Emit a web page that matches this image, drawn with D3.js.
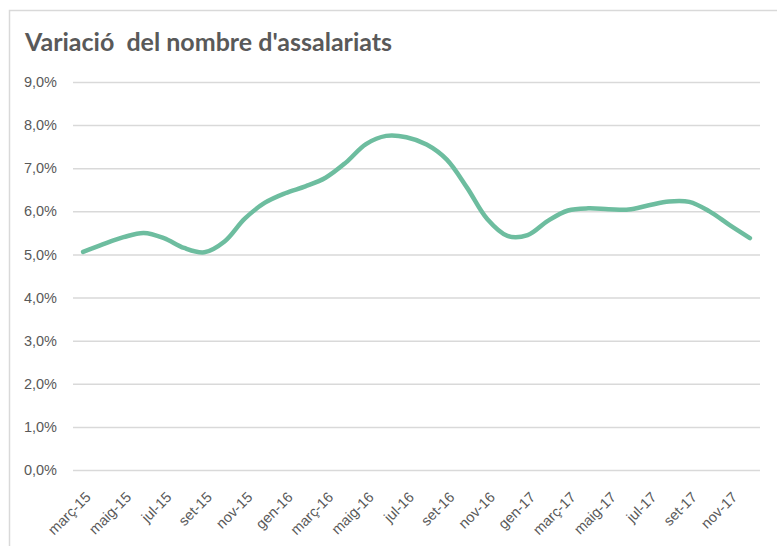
<!DOCTYPE html>
<html>
<head>
<meta charset="utf-8">
<script src="https://cdn.jsdelivr.net/npm/d3@7"></script>
<style>
  html, body { margin: 0; padding: 0; background: #fff; }
  svg { display: block; font-family: Lato, "Open Sans", sans-serif; }
  .tick text { fill: #595959; font-size: 14.5px; }
</style>
</head>
<body>
<div id="chart"></div>
<script>
// ── DATA ─────────────────────────────────────────────────────────────────────
const title = "Variació\u00a0 del nombre d'assalariats";

// one entry per month, març-15 … des-17
const months = [
  'març-15', 'abr-15', 'maig-15', 'juny-15', 'jul-15', 'ag-15', 'set-15', 'oct-15', 'nov-15', 'des-15',
  'gen-16', 'febr-16', 'març-16', 'abr-16', 'maig-16', 'juny-16', 'jul-16', 'ag-16', 'set-16', 'oct-16', 'nov-16', 'des-16',
  'gen-17', 'febr-17', 'març-17', 'abr-17', 'maig-17', 'juny-17', 'jul-17', 'ag-17', 'set-17', 'oct-17', 'nov-17', 'des-17'
];

// year-on-year change in employees, %
const values = [
  5.06, 5.24, 5.40, 5.50, 5.38, 5.15, 5.05, 5.30, 5.83, 6.20,
  6.42, 6.58, 6.78, 7.13, 7.56, 7.75, 7.72, 7.55, 7.20, 6.55, 5.82, 5.43,
  5.45, 5.78, 6.02, 6.07, 6.05, 6.04, 6.14, 6.23, 6.22, 6.00, 5.68, 5.38
];

// labels shown on the axis (every second month)
const xTickLabels = [
  'març-15', 'maig-15', 'jul-15', 'set-15', 'nov-15', 'gen-16', 'març-16', 'maig-16', 'jul-16',
  'set-16', 'nov-16', 'gen-17', 'març-17', 'maig-17', 'jul-17', 'set-17', 'nov-17'
];

const yTicks = [0, 1, 2, 3, 4, 5, 6, 7, 8, 9];

// ── DIMENSIONS ───────────────────────────────────────────────────────────────
const W = 777, H = 546;
const plot = { left: 73, right: 760, top: 82, bottom: 470 };

const svg = d3.select('#chart')
  .append('svg')
    .attr('width', W)
    .attr('height', H);

// chart area border (cropped on the right and bottom in the original)
svg.append('rect')
  .attr('x', 9.5)
  .attr('y', 10.5)
  .attr('width', 800)
  .attr('height', 560)
  .attr('fill', '#fff')
  .attr('stroke', '#d9d9d9')
  .attr('stroke-width', 1.5);

// ── SCALES ───────────────────────────────────────────────────────────────────
const x = d3.scalePoint()
  .domain(months)
  .range([plot.left, plot.right])
  .padding(0.5);

const y = d3.scaleLinear()
  .domain([0, 9])
  .range([plot.bottom, plot.top]);

// ── GRID + Y AXIS ────────────────────────────────────────────────────────────
const yAxisG = svg.append('g')
  .attr('transform', `translate(${plot.left},0)`)
  .call(d3.axisLeft(y)
    .tickValues(yTicks)
    .tickSize(-(plot.right - plot.left))
    .tickPadding(16)
    .tickFormat(d => d.toFixed(1).replace('.', ',') + '%'));

yAxisG.select('.domain').remove();
yAxisG.selectAll('.tick line')
  .attr('stroke', '#d9d9d9')
  .attr('stroke-width', 1.5);

// ── X AXIS ───────────────────────────────────────────────────────────────────
const xAxisG = svg.append('g')
  .attr('transform', `translate(0,${plot.bottom})`)
  .call(d3.axisBottom(x)
    .tickValues(xTickLabels)
    .tickSize(0));

xAxisG.select('.domain').remove();
xAxisG.selectAll('.tick text')
  .attr('text-anchor', 'end')
  .attr('dx', 0)
  .attr('dy', 0)
  .attr('transform', 'translate(6,26) rotate(-45)');

// ── LINE ─────────────────────────────────────────────────────────────────────
const line = d3.line()
  .x((d, i) => x(months[i]))
  .y(d => y(d))
  .curve(d3.curveCatmullRom.alpha(0.5));

svg.append('path')
  .datum(values)
  .attr('fill', 'none')
  .attr('stroke', '#6dbd9f')
  .attr('stroke-width', 4.5)
  .attr('stroke-linecap', 'round')
  .attr('d', line);

// ── TITLE ────────────────────────────────────────────────────────────────────
svg.append('text')
  .attr('x', 25)
  .attr('y', 51)
  .attr('fill', '#595959')
  .attr('font-size', 25)
  .attr('font-weight', 'bold')
  .text(title);
</script>
</body>
</html>
